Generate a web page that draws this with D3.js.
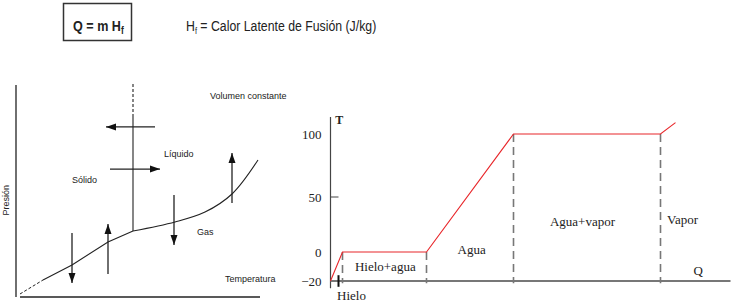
<!doctype html>
<html>
<head>
<meta charset="utf-8">
<title>Calor latente de fusión</title>
<style>
body { margin: 0; background: white; }
svg { display: block; }
.serif { font-family: "Liberation Serif", "DejaVu Serif", serif; fill: #222; }
.sans { font-family: "Liberation Sans", Arial, sans-serif; fill: #222; }
</style>
</head>
<body>
<svg width="731" height="307" id="chart"></svg>
<script src="https://cdn.jsdelivr.net/npm/d3@7"></script>
<script>
// ---- heating curve (right) ----
var heatQ = [0, 3, 24, 45.75, 82.5, 86.25];
var heatT = [-20, 0, 0, 100, 100, 109];
var phaseQ = [3, 24, 45.75, 82.5];
var tTicks = [-20, 0, 50, 100];
var phaseLabels = [
  {text: "Hielo+agua", q: 13.7, t: -11},
  {text: "Agua", q: 35.3, t: 1},
  {text: "Agua+vapor", q: 63, t: 26},
  {text: "Vapor", q: 88, t: 28}
];

// ---- phase diagram (left), temperatura / presion in arbitrary units ----
var dashStartT = [1.6, 10.8];
var dashStartP = [1.4, 7.9];
var solidGasT = [10.8, 22.4, 36.8, 46.8];
var solidGasP = [7.9, 14.9, 25.6, 30.7];
var liquidGasT = [46.8, 63.6, 75.6, 86.4, 96.8];
var liquidGasP = [30.7, 34.9, 39.5, 47.9, 63.7];
var fusionT = 46.8;
var fusionP = [30.7, 83.7, 100];
// arrows: [t1, p1, t2, p2]
var arrows = [
  [55.6, 79.1, 36, 79.1],
  [37.6, 59.5, 57.6, 59.5],
  [22.4, 29.8, 22.4, 6.5],
  [36.8, 10.7, 36.8, 34],
  [63.2, 47.4, 63.2, 24.2],
  [86.4, 43.7, 86.4, 67]
];
var regionLabels = [
  {text: "Volumen constante", t: 77.6, p: 92},
  {text: "Líquido", t: 59.2, p: 65},
  {text: "Sólido", t: 22.4, p: 53},
  {text: "Gas", t: 72.4, p: 29},
  {text: "Temperatura", t: 83.6, p: 7}
];

var svg = d3.select("#chart");

svg.append("defs").append("marker")
    .attr("id", "head")
    .attr("markerUnits", "userSpaceOnUse")
    .attr("markerWidth", 11).attr("markerHeight", 8)
    .attr("refX", 10).attr("refY", 4)
    .attr("orient", "auto")
  .append("path")
    .attr("d", "M0,0.5 L10,4 L0,7.5 Z")
    .attr("fill", "#111");

// header (narrow sans, squeezed horizontally)
svg.append("rect")
    .attr("x", 63.5).attr("y", 3.5).attr("width", 68).attr("height", 37)
    .attr("fill", "none").attr("stroke", "#333").attr("stroke-width", 1.5);
var formula = svg.append("text").attr("class", "sans")
    .attr("transform", "translate(73,31) scale(0.84,1)")
    .attr("font-size", 15).attr("font-weight", "bold").attr("fill", "#333");
formula.append("tspan").text("Q = m H");
formula.append("tspan").attr("font-size", 10).attr("dy", 3).text("f");

var legend = svg.append("text").attr("class", "sans")
    .attr("transform", "translate(186,31) scale(0.82,1)")
    .attr("font-size", 15).attr("fill", "#444");
legend.append("tspan").text("H");
legend.append("tspan").attr("font-size", 9).attr("dy", 3).text("f");
legend.append("tspan").attr("dy", -3).text(" = Calor Latente de Fusión (J/kg)");

// ---------- left: diagrama de fases ----------
var xL = d3.scaleLinear().domain([0, 100]).range([16, 266]);
var yL = d3.scaleLinear().domain([0, 100]).range([297, 82]);
var left = svg.append("g").attr("stroke", "#222").attr("fill", "none");

left.append("line").attr("x1", xL(0)).attr("x2", xL(0))
    .attr("y1", yL(98.6)).attr("y2", yL(0)).attr("stroke-width", 1.3);
left.append("line").attr("x1", xL(1.6)).attr("x2", xL(97.6))
    .attr("y1", yL(0)).attr("y2", yL(0)).attr("stroke-width", 1.3);

var lineL = d3.line().x(function(d) { return xL(d[0]); }).y(function(d) { return yL(d[1]); });
left.append("path").attr("d", lineL(d3.zip(dashStartT, dashStartP)))
    .attr("stroke-dasharray", "3,2").attr("stroke-width", 1);
left.append("path").attr("d", lineL(d3.zip(solidGasT, solidGasP)))
    .attr("stroke-width", 1.1);
left.append("path")
    .attr("d", lineL.curve(d3.curveCatmullRom)(d3.zip(liquidGasT, liquidGasP)))
    .attr("stroke-width", 1.1);
left.append("line").attr("x1", xL(fusionT)).attr("x2", xL(fusionT))
    .attr("y1", yL(fusionP[0])).attr("y2", yL(fusionP[1])).attr("stroke-width", 1.1);
left.append("line").attr("x1", xL(fusionT)).attr("x2", xL(fusionT))
    .attr("y1", yL(fusionP[1])).attr("y2", yL(fusionP[2]))
    .attr("stroke-dasharray", "3,2").attr("stroke-width", 1.1);

left.selectAll("line.arrow").data(arrows).enter().append("line")
    .attr("class", "arrow")
    .attr("x1", function(d) { return xL(d[0]); })
    .attr("y1", function(d) { return yL(d[1]); })
    .attr("x2", function(d) { return xL(d[2]); })
    .attr("y2", function(d) { return yL(d[3]); })
    .attr("stroke-width", 1.3)
    .attr("marker-end", "url(#head)");

svg.selectAll("text.region").data(regionLabels).enter().append("text")
    .attr("class", "region sans")
    .attr("x", function(d) { return xL(d.t); })
    .attr("y", function(d) { return yL(d.p); })
    .attr("font-size", 9)
    .text(function(d) { return d.text; });
svg.append("text").attr("class", "sans")
    .attr("transform", "translate(" + (xL(0) - 7) + "," + yL(45) + ") rotate(-90)")
    .attr("text-anchor", "middle").attr("font-size", 9)
    .text("Presión");

// ---------- right: curva de calentamiento ----------
var xQ = d3.scaleLinear().domain([0, 100]).range([330.5, 730.5]);
var yT = d3.scaleLinear().domain(tTicks).range([281, 252, 197, 134]);

var yAxis = d3.axisLeft(yT).tickValues(tTicks).tickSize(0).tickPadding(8);
var gy = svg.append("g").attr("transform", "translate(" + (xQ(0) - 1) + ",0)").call(yAxis);
gy.select(".domain").remove();
gy.selectAll("text").attr("class", "serif").attr("font-size", 13).attr("fill", "#222")
    .attr("font-family", "Liberation Serif, serif");

svg.append("line").attr("x1", xQ(0)).attr("x2", xQ(0))
    .attr("y1", yT(113.5)).attr("y2", yT(-25))
    .attr("stroke", "#444").attr("stroke-width", 1.2);
svg.append("line").attr("x1", xQ(0)).attr("x2", xQ(0) + 8)
    .attr("y1", yT(50)).attr("y2", yT(50))
    .attr("stroke", "#444").attr("stroke-width", 1);
svg.append("line").attr("x1", xQ(0)).attr("x2", xQ(100))
    .attr("y1", yT(-20)).attr("y2", yT(-20))
    .attr("stroke", "#777").attr("stroke-width", 1.8);

svg.selectAll("line.phase").data(phaseQ).enter().append("line")
    .attr("class", "phase")
    .attr("x1", function(d) { return xQ(d); })
    .attr("x2", function(d) { return xQ(d); })
    .attr("y1", function(d, i) { return yT(i < 2 ? 0 : 100); })
    .attr("y2", yT(-21.5))
    .attr("stroke", "#777").attr("stroke-width", 1.6)
    .attr("stroke-dasharray", "8,5");

svg.append("path")
    .attr("d", d3.line().x(function(d) { return xQ(d[0]); }).y(function(d) { return yT(d[1]); })(d3.zip(heatQ, heatT)))
    .attr("fill", "none").attr("stroke", "#e8262a").attr("stroke-width", 1.1);

svg.append("line").attr("x1", xQ(2)).attr("x2", xQ(2))
    .attr("y1", yT(-16)).attr("y2", yT(-24))
    .attr("stroke", "#111").attr("stroke-width", 2);

svg.selectAll("text.phaseLabel").data(phaseLabels).enter().append("text")
    .attr("class", "phaseLabel serif")
    .attr("x", function(d) { return xQ(d.q); })
    .attr("y", function(d) { return yT(d.t); })
    .attr("text-anchor", "middle").attr("dominant-baseline", "middle")
    .attr("font-size", 13)
    .text(function(d) { return d.text; });

svg.append("text").attr("class", "serif")
    .attr("x", xQ(5.25)).attr("y", yT(-31))
    .attr("text-anchor", "middle").attr("dominant-baseline", "middle")
    .attr("font-size", 13).text("Hielo");
svg.append("text").attr("class", "serif")
    .attr("x", xQ(91.9)).attr("y", yT(-14))
    .attr("text-anchor", "middle").attr("dominant-baseline", "middle")
    .attr("font-size", 13).text("Q");
svg.append("text").attr("class", "serif")
    .attr("x", xQ(1.2)).attr("y", yT(110.5))
    .attr("dominant-baseline", "middle")
    .attr("font-size", 12).attr("font-weight", "bold").text("T");
</script>
</body>
</html>
